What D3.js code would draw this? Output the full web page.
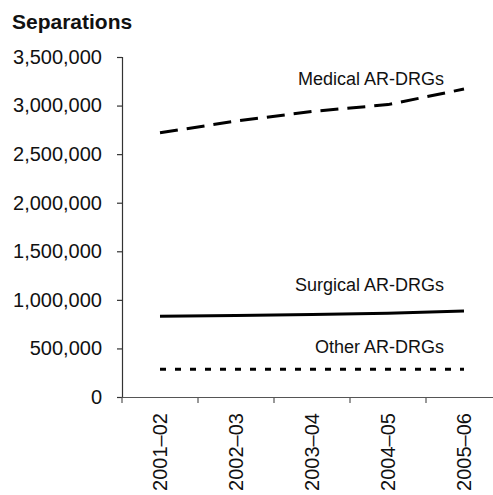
<!DOCTYPE html>
<html>
<head>
<meta charset="utf-8">
<script src="https://cdn.jsdelivr.net/npm/d3@7"></script>
<style>
  body { margin: 0; background: #fff; }
  svg { display: block; font-family: "Liberation Sans", Arial, sans-serif; }
</style>
</head>
<body>
<svg id="chart" width="493" height="495"></svg>
<script>
const chartWidth = 493;
const chartHeight = 495;

// values
const categories = ["2001–02", "2002–03", "2003–04", "2004–05", "2005–06"];
const medical = [2720000, 2840000, 2940000, 3010000, 3170000];
const surgical = [830000, 838000, 848000, 862000, 885000];
const other = [285000, 285000, 285000, 285000, 285000];
const yTicks = [0, 500000, 1000000, 1500000, 2000000, 2500000, 3000000, 3500000];
const seriesNames = ["Medical AR-DRGs", "Surgical AR-DRGs", "Other AR-DRGs"];

let margin = {top: 57, right: -9, bottom: 98, left: 122};

let svg = d3.select("#chart");

let x = d3.scaleBand()
  .domain(categories)
  .range([margin.left, chartWidth - margin.right]);

let y = d3.scaleLinear()
  .domain([0, 3500000])
  .range([chartHeight - margin.bottom, margin.top]);

// title
svg.append("text")
  .attr("x", 12)
  .attr("y", 29)
  .attr("font-size", 21)
  .attr("font-weight", "bold")
  .attr("fill", "#111")
  .text("Separations");

// y axis
let y_axis = d3.axisLeft(y)
  .tickValues(yTicks)
  .tickFormat(d3.format(","))
  .tickSize(5)
  .tickPadding(15);

let gy = svg.append("g")
  .attr("transform", `translate(${margin.left}, 0)`)
  .call(y_axis);
gy.selectAll("text").attr("font-size", 20).attr("fill", "#111").attr("font-family", null);
gy.selectAll("line, path").attr("stroke", "#333").attr("stroke-width", 1.2);

// x axis: labels at band centres, ticks at band edges
let x_axis = d3.axisBottom(x).tickSize(0).tickSizeOuter(0);
let gx = svg.append("g")
  .attr("transform", `translate(0, ${y(0)})`)
  .call(x_axis);
gx.select(".domain").attr("stroke", "#555").attr("stroke-width", 1.2);
gx.selectAll("text")
  .attr("font-size", 20)
  .attr("font-family", null)
  .attr("fill", "#111")
  .attr("text-anchor", "end")
  .attr("transform", "rotate(-90)")
  .attr("x", -16)
  .attr("y", 0)
  .attr("dy", "0.35em");

gx.selectAll(".edge")
  .data(categories).enter()
  .append("line")
  .attr("class", "edge")
  .attr("x1", d => x(d))
  .attr("x2", d => x(d))
  .attr("y1", 0)
  .attr("y2", 6)
  .attr("stroke", "#555")
  .attr("stroke-width", 1.2);

// series
let series = [
  {name: seriesNames[0], values: medical, dash: "18,9", dy: -4},
  {name: seriesNames[1], values: surgical, dash: null, dy: -20},
  {name: seriesNames[2], values: other, dash: "6,9", dy: -16}
];

let path_generator = d3.line()
  .x((d, i) => x(categories[i]) + x.bandwidth() / 2)
  .y(d => y(d));

svg.append("g")
  .selectAll("path")
  .data(series).enter()
  .append("path")
  .attr("d", s => path_generator(s.values))
  .attr("fill", "none")
  .attr("stroke", "#000")
  .attr("stroke-width", 3)
  .attr("stroke-dasharray", s => s.dash);

let last = categories.length - 1;
svg.append("g")
  .selectAll("text")
  .data(series).enter()
  .append("text")
  .attr("x", x(categories[last]) + x.bandwidth() / 2 - 20)
  .attr("y", s => y(s.values[last]) + s.dy)
  .attr("text-anchor", "end")
  .attr("font-size", 18)
  .attr("fill", "#111")
  .text(s => s.name);
</script>
</body>
</html>
